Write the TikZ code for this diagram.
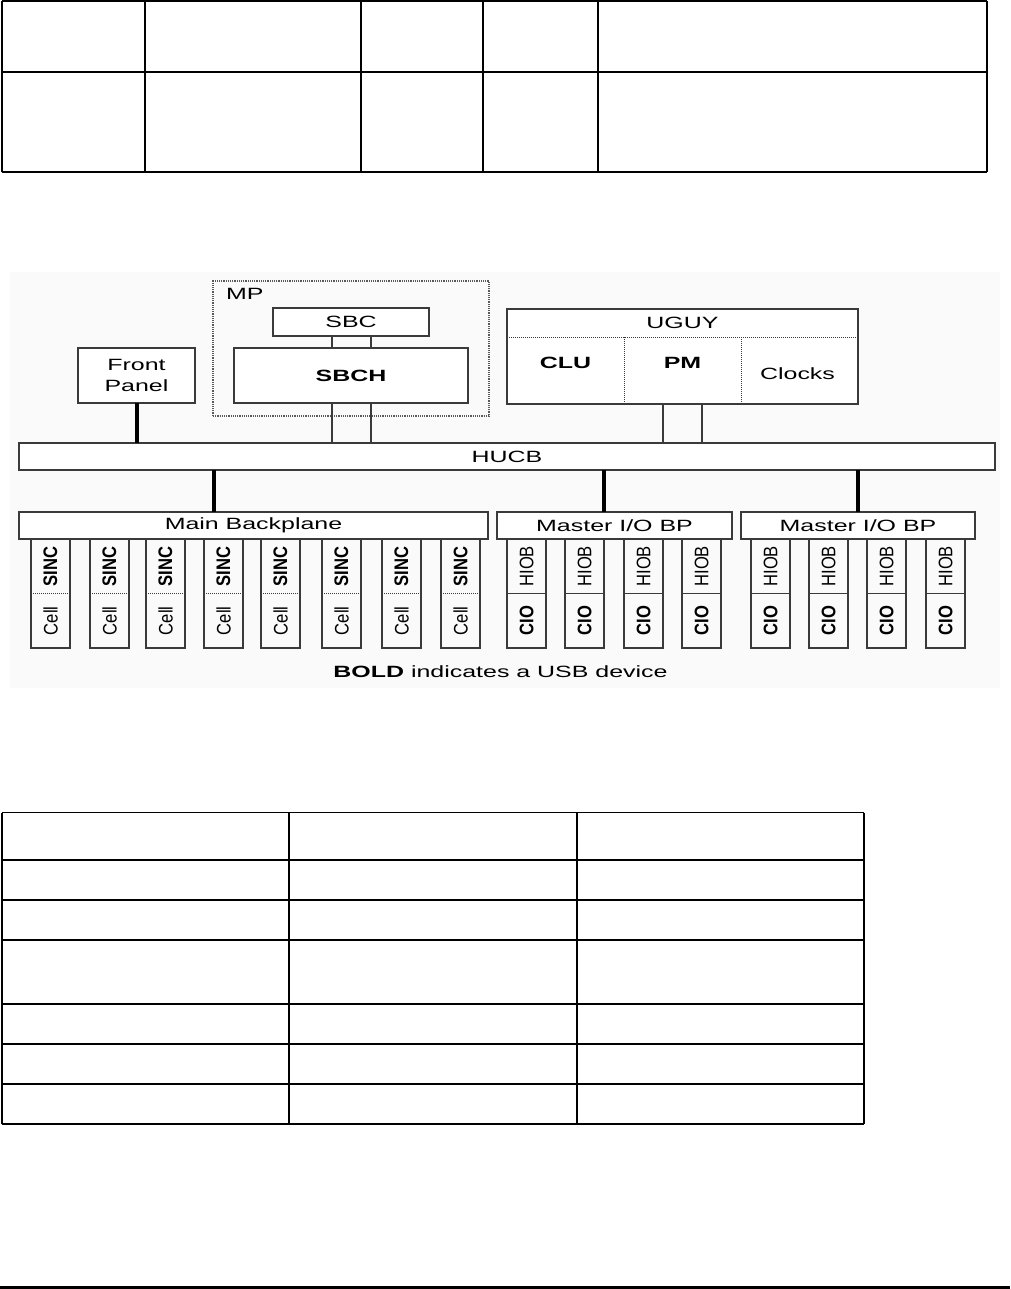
\documentclass[tikz,border=0pt]{standalone}
\usepackage{fontspec}
\usepackage{graphicx}
\usepackage{tikz}
\usetikzlibrary{arrows.meta, positioning, calc}
\definecolor{BoxLine}{HTML}{3A3A3A}
\definecolor{PanelBg}{HTML}{FAFAFA}
\newfontfamily\diagfont[FakeStretch=1.53]{Liberation Sans}
\newfontfamily\slotfont{Liberation Sans}
\newcommand\lblsize{\fontsize{16.3}{21}\selectfont}
\newcommand\slottext[1]{\rotatebox{90}{\scalebox{1}[1.18]{#1}}}

\begin{document}
\begin{tikzpicture}[x=1pt, y=-1pt,
    box/.style={draw=BoxLine, line width=1.2, fill=white, inner sep=0, outer sep=0,
      font=\diagfont\lblsize, align=center},
    part/.style={inner sep=0, outer sep=0, minimum width=117, minimum height=67},
    lbl/.style={inner sep=0, font=\diagfont\lblsize},
    half/.style={inner sep=0, outer sep=0, minimum width=39, minimum height=54.5,
      font=\slotfont\fontsize{16.6}{20}\selectfont},
    frame/.style={draw=BoxLine, line width=1.2},
    sep/.style={draw=BoxLine, line width=1, densely dotted},
    link/.style={draw=BoxLine, line width=1.2},
    bus/.style={draw=black, line width=4},
    tabline/.style={draw=black, line width=1.3}]
  \useasboundingbox (0,0) rectangle (1010,1289);

  % Upper table
  \draw[tabline] (2,1) -- (987,1);
  \draw[tabline] (2,72) -- (987,72);
  \draw[tabline, line width=2] (2,172) -- (987,172);
  \foreach \x in {2,145,361,483,598,987}
    \draw[tabline] (\x,1) -- (\x,172);

  % Diagram background
  \fill[PanelBg] (10,272) rectangle (1000,688);

  % MP group
  \node[box, draw=black!65, densely dotted, line width=1.2, fill=none,
    minimum width=276, minimum height=135] (mp) at (351,348.5) {};
  \node[lbl, anchor=north west] (mplabel) at ([xshift=13,yshift=-7]mp.north west) {MP};
  \node[box, minimum width=156, minimum height=28] (sbc) at (351,322) {SBC};
  \node[box, minimum width=234, minimum height=55] (sbch) at (351,375.5) {\bfseries SBCH};

  % Front panel
  \node[box, minimum width=117, minimum height=55] (front) at (136.5,375.5) {Front\\Panel};

  % UGUY with its three parts
  \node[box, minimum width=351, minimum height=95] (uguy) at (682.5,356.5) {};
  \node[lbl] (uguylabel) at (682.5,323) {UGUY};
  \node[part] (clu) at (565.5,370.5) {};
  \node[part] (pm) at (682.5,370.5) {};
  \node[part] (clocks) at (799.5,370.5) {};
  \draw[sep] (clu.north west) -- (clocks.north east);
  \draw[sep] (clu.north east) -- (clu.south east);
  \draw[sep] (pm.north east) -- (pm.south east);
  \node[lbl] (clulabel) at ([yshift=7.5]clu.center) {\bfseries CLU};
  \node[lbl] (pmlabel) at ([yshift=7.5]pm.center) {\bfseries PM};
  \node[lbl] (clockslabel) at ([xshift=-2,yshift=-3.5]clocks.center) {Clocks};

  % HUCB and backplanes
  \node[box, minimum width=976, minimum height=27] (hucb) at (507,456.5) {HUCB};
  \node[box, minimum width=469, minimum height=27] (mainbp) at (253.5,525.5) {Main Backplane};
  \node[box, minimum width=235, minimum height=27] (mio1) at (614.5,525.5) {Master I/O BP};
  \node[box, minimum width=234, minimum height=27] (mio2) at (858,525.5) {Master I/O BP};

  % Links to the HUCB
  \draw[link] ([xshift=-19]sbc.south) -- ([xshift=-19]sbch.north);
  \draw[link] ([xshift=20]sbc.south) -- ([xshift=20]sbch.north);
  \draw[link] ([xshift=-19]sbch.south) -- ([xshift=-19]sbch.south |- hucb.north);
  \draw[link] ([xshift=20]sbch.south) -- ([xshift=20]sbch.south |- hucb.north);
  \draw[link] ([xshift=-19.5]pm.south) -- ([xshift=-19.5]pm.south |- hucb.north);
  \draw[link] ([xshift=19.5]pm.south) -- ([xshift=19.5]pm.south |- hucb.north);
  \draw[bus] (front.south) -- (front.south |- hucb.north);
  \draw[bus] ([xshift=-39.5]mainbp.north) -- ([xshift=-39.5]mainbp.north |- hucb.south);
  \draw[bus] ([xshift=-10.5]mio1.north) -- ([xshift=-10.5]mio1.north |- hucb.south);
  \draw[bus] (mio2.north) -- (mio2.north |- hucb.south);

  % Cell slots
  \foreach \x [count=\i] in {31,90,146,204,261,322,382,441} {
    \node[half, anchor=north west] (sinc\i) at (\x,539) {\slottext{\bfseries SINC}};
    \node[half, anchor=north west] (cell\i) at (sinc\i.south west) {\slottext{Cell}};
    \draw[frame] (sinc\i.north west) rectangle (cell\i.south east);
    \draw[sep] (sinc\i.south west) -- (sinc\i.south east);
  }

  % I/O slots
  \foreach \x [count=\i] in {507,565,624,682,751,809,867,926} {
    \node[half, anchor=north west] (hiob\i) at (\x,539) {\slottext{HIOB}};
    \node[half, anchor=north west] (cio\i) at (hiob\i.south west) {\slottext{\bfseries CIO}};
    \draw[frame] (hiob\i.north west) rectangle (cio\i.south east);
    \draw[frame] (hiob\i.south west) -- (hiob\i.south east);
  }

  \node[lbl] (note) at (500.5,672) {\bfseries BOLD\mdseries{} indicates a USB device};

  % Lower table
  \foreach \y in {812.7,860,900,940,1004,1044,1084}
    \draw[tabline] (2,\y) -- (864,\y);
  \draw[tabline, line width=2] (2,1124) -- (864,1124);
  \foreach \x in {2,289,577,864}
    \draw[tabline] (\x,812.7) -- (\x,1124);

  % Page rule
  \draw[black, line width=3] (0,1287) -- (1010,1287);
\end{tikzpicture}
\end{document}
